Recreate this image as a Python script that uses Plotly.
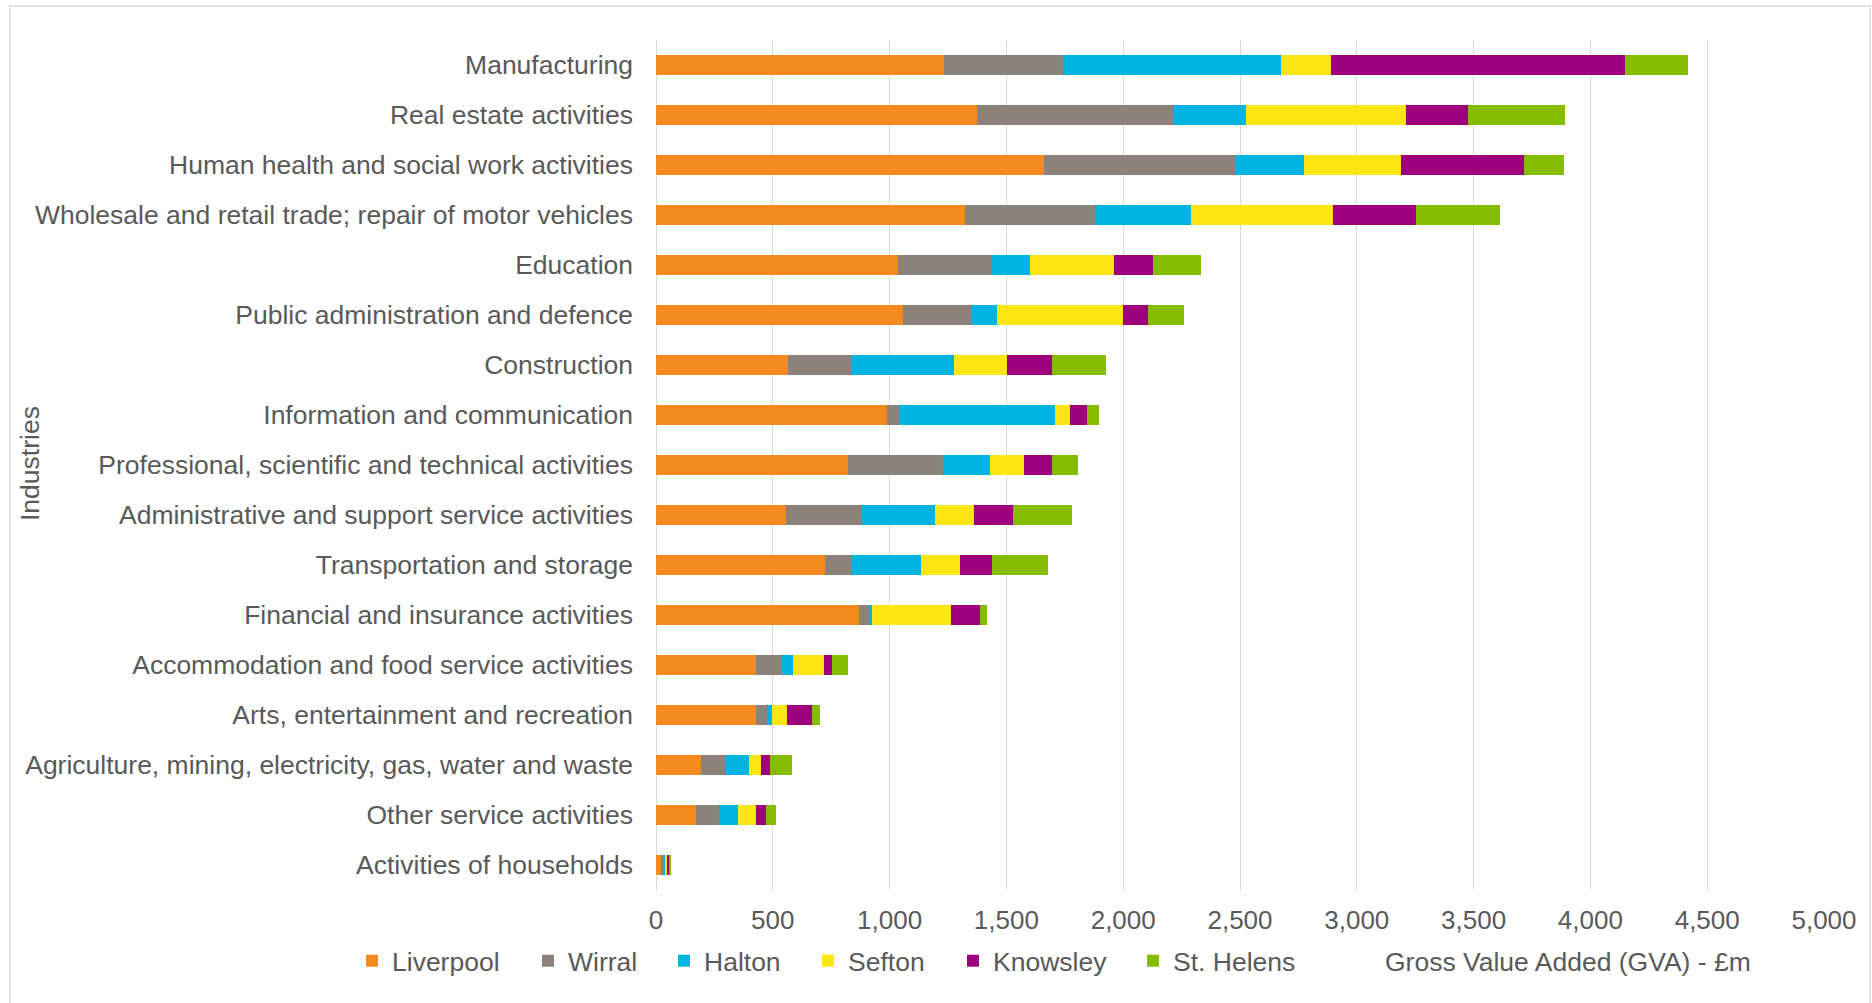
import plotly.graph_objects as go

# Industries, top to bottom
industries = [
    "Manufacturing",
    "Real estate activities",
    "Human health and social work activities",
    "Wholesale and retail trade; repair of motor vehicles",
    "Education",
    "Public administration and defence",
    "Construction",
    "Information and communication",
    "Professional, scientific and technical activities",
    "Administrative and support service activities",
    "Transportation and storage",
    "Financial and insurance activities",
    "Accommodation and food service activities",
    "Arts, entertainment and recreation",
    "Agriculture, mining, electricity, gas, water and waste",
    "Other service activities",
    "Activities of households",
]

# GVA (£m) by local authority, same order as industries
liverpool = [1233, 1374, 1659, 1323, 1038, 1059, 566, 987, 823, 557, 725, 869, 430, 430, 192, 170, 23]
wirral = [508, 839, 821, 557, 400, 289, 267, 54, 407, 325, 114, 41, 109, 45, 103, 99, 6]
halton = [936, 313, 292, 410, 162, 111, 441, 667, 200, 311, 295, 15, 46, 23, 105, 80, 10]
sefton = [212, 685, 418, 610, 362, 539, 228, 64, 147, 168, 166, 336, 135, 61, 49, 81, 10]
knowsley = [1257, 266, 525, 352, 166, 109, 193, 71, 120, 167, 138, 126, 34, 108, 41, 40, 7]
st_helens = [270, 415, 174, 363, 206, 155, 231, 54, 111, 254, 242, 28, 69, 33, 92, 45, 8]

series_names = ["Liverpool", "Wirral", "Halton", "Sefton", "Knowsley", "St. Helens"]
series_values = [liverpool, wirral, halton, sefton, knowsley, st_helens]
series_colors = ["#F58A1F", "#8C8279", "#00B4E1", "#FFE512", "#9E007E", "#86BC00"]

x_ticks = [0, 500, 1000, 1500, 2000, 2500, 3000, 3500, 4000, 4500, 5000]

W, H = 1872, 1003
ML, MR, MT, MB = 656, 48, 40, 113
PW, PH = W - ML - MR, H - MT - MB

FONT = "Liberation Sans, Arial, sans-serif"
TXT = "#595959"
GRID = "#D9D9D9"
FS = 26.5


def px_x(px):
    return (px - ML) / PW


def px_y(py):
    return (H - MB - py) / PH


# legend entry anchor positions (px) for each series
legend_left = [352, 528, 664, 808, 953, 1133]

fig = go.Figure()
for i, (name, vals, col) in enumerate(zip(series_names, series_values, series_colors)):
    lg = "legend" if i == 0 else f"legend{i + 1}"
    fig.add_trace(go.Bar(
        y=industries, x=vals, name=name, orientation="h",
        marker=dict(color=col, line=dict(width=0)),
        legend=lg,
    ))
    fig.update_layout({lg: dict(
        x=px_x(legend_left[i]), xanchor="left",
        y=px_y(961), yanchor="middle",
        orientation="h", bgcolor="rgba(0,0,0,0)", borderwidth=0,
        font=dict(family=FONT, size=FS, color=TXT),
        traceorder="normal",
    )})

fig.update_layout(
    width=W, height=H,
    margin=dict(l=ML, r=MR, t=MT, b=MB, pad=0),
    barmode="stack", bargap=0.6,
    paper_bgcolor="white", plot_bgcolor="white",
    font=dict(family=FONT, size=FS, color=TXT),
    showlegend=True,
    xaxis=dict(
        range=[0, 5000], tickvals=x_ticks, tickformat=",",
        showgrid=True, gridcolor=GRID, gridwidth=1.3,
        zeroline=True, zerolinecolor=GRID, zerolinewidth=1.3,
        showline=False, ticks="", ticklabelstandoff=12,
        tickfont=dict(family=FONT, size=26, color=TXT),
        fixedrange=True,
    ),
    yaxis=dict(
        categoryorder="array", categoryarray=industries, autorange="reversed",
        showgrid=False, zeroline=False, showline=False, ticks="",
        ticklabelstandoff=22,
        tickfont=dict(family=FONT, size=FS, color=TXT),
        fixedrange=True,
    ),
    shapes=[dict(
        type="rect", xref="paper", yref="paper",
        x0=px_x(10), x1=px_x(1870), y0=px_y(6), y1=px_y(1010),
        line=dict(color=GRID, width=1.5), fillcolor="rgba(0,0,0,0)", layer="below",
    )],
    annotations=[
        dict(text="Industries", xref="paper", yref="paper",
             x=px_x(30), y=px_y(464), xanchor="center", yanchor="middle",
             textangle=-90, showarrow=False,
             font=dict(family=FONT, size=FS, color=TXT)),
        dict(text="Gross Value Added (GVA) - £m", xref="paper", yref="paper",
             x=px_x(1568), y=px_y(962), xanchor="center", yanchor="middle",
             showarrow=False,
             font=dict(family=FONT, size=FS, color=TXT)),
    ],
)

fig.write_html("out.html")
